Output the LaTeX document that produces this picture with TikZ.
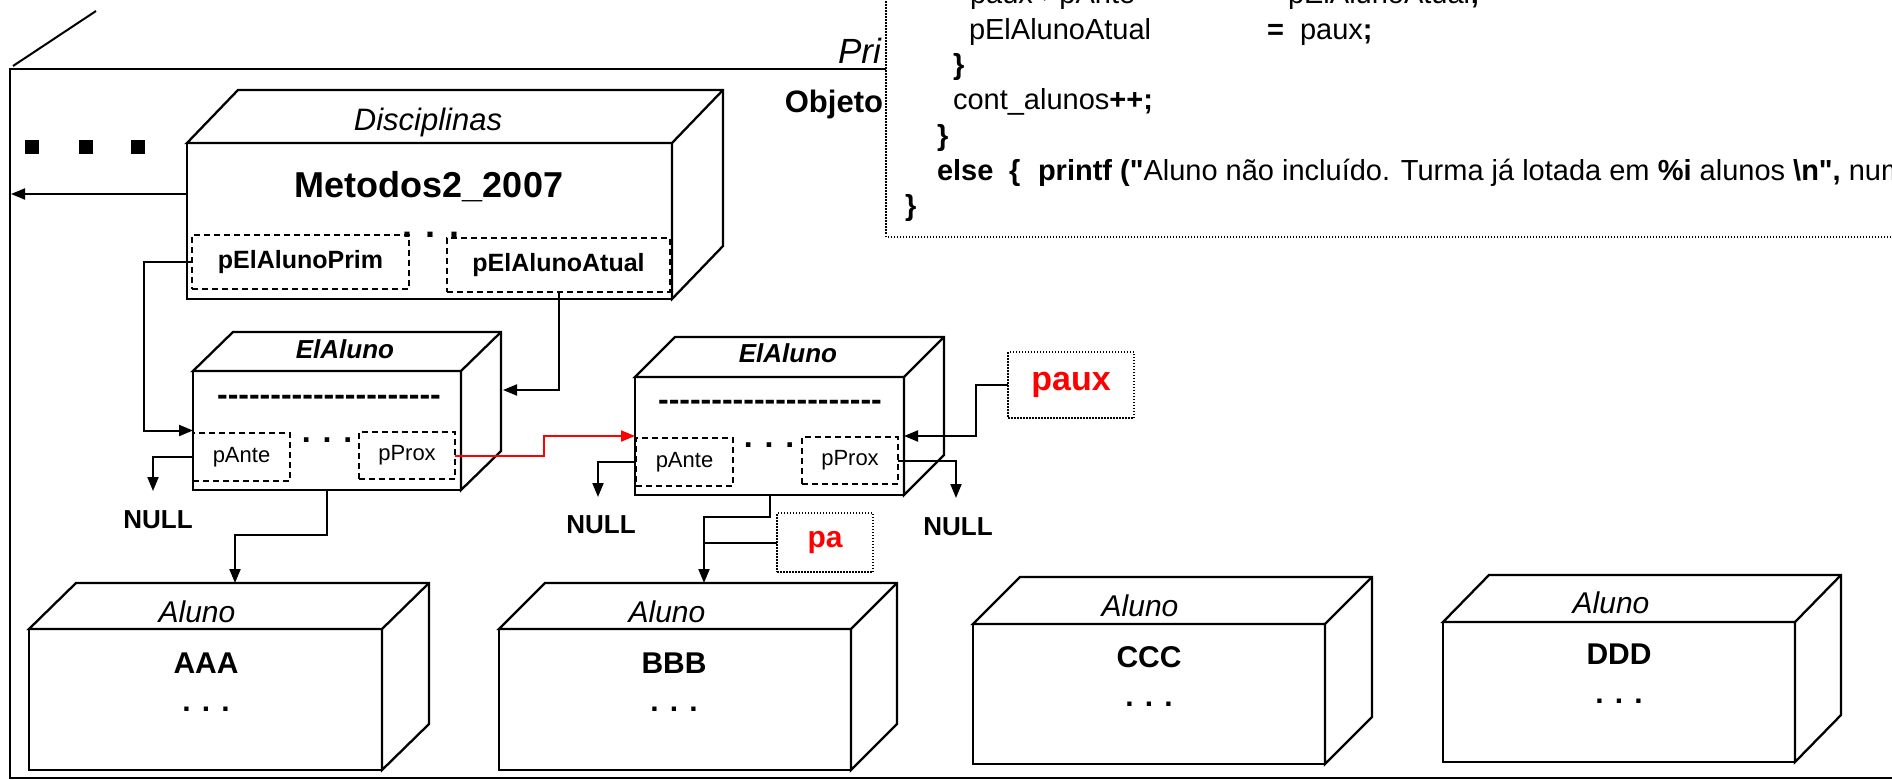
\documentclass[tikz,border=0pt]{standalone}
\usepackage{fontspec}
\setmainfont[Ligatures=TeXOff]{Liberation Sans}
\usetikzlibrary{arrows.meta,calc}
\newcommand\fsz[1]{\fontsize{#1}{#1}\selectfont}
\newcommand\cubenode[7]{%
  \node[front, minimum width=#4pt, minimum height=#5pt] (#1) at (#2,#3) {};
  \draw[boxline, fill=white] (#1.north west) -- ++(#6,-#7) -- ($(#1.north east)+(#6,-#7)$) -- ($(#1.south east)+(#6,-#7)$) -- (#1.south east) -- (#1.north east) -- cycle;
  \draw[boxline] (#1.north east) -- ++(#6,-#7);
}
\begin{document}
\begin{tikzpicture}[x=1pt,y=-1pt,
  boxline/.style={line width=2.3pt, line join=miter},
  front/.style={draw, rectangle, line width=2.3pt, fill=white, inner sep=0pt, outer sep=0pt},
  dbox/.style={draw, rectangle, line width=1.8pt, dash pattern=on 6pt off 4pt, inner sep=0pt, outer sep=0pt, font=\fsz{25}\bfseries},
  sbox/.style={draw, rectangle, line width=1.8pt, dash pattern=on 6pt off 4pt, inner sep=0pt, outer sep=0pt, font=\fsz{22}},
  dotbox/.style={draw, rectangle, line width=1.5pt, dash pattern=on 1.5pt off 1.5pt, inner sep=0pt, outer sep=0pt, fill=white, text=red, font=\bfseries},
  conn/.style={line width=2pt, -{Triangle[length=14pt,width=11pt]}},
  wire/.style={line width=2pt},
  txt/.style={inner sep=0pt, outer sep=0pt, anchor=base},
  code/.style={inner sep=0pt, outer sep=0pt, anchor=base west, font=\fsz{29}},
]
\useasboundingbox (0,0) rectangle (1892,779);
\clip (0,0) rectangle (1892,779);

% outer frame
\draw[line width=2pt] (900,69) -- (10,69) -- (10,777.5) -- (1900,777.5);
\draw[line width=2pt] (13,66) -- (96,11);
\node[txt, anchor=base west, font=\fsz{35}\itshape] (pri) at (838,63) {Pri};
\node[txt, anchor=base east, font=\fsz{31}\bfseries] (objeto) at (883,112) {Objeto};

% code box
\fill[white] (886,-5) rectangle (1900,237);
\draw[line width=1.5pt, dash pattern=on 1.5pt off 1.5pt] (1900,237) -- (886,237) -- (886,-5);
\node[code] (c1a) at (970,4) {paux->pAnte};
\node[code] (c1b) at (1288,4) {pElAlunoAtual\textbf{;}};
\node[code] (c2a) at (969,39) {pElAlunoAtual};
\node[code] (c2b) at (1267,39) {\textbf{=}};
\node[code] (c2c) at (1300,39) {paux\textbf{;}};
\node[code] (c3) at (953,74) {\textbf{\}}};
\node[code] (c4) at (953,109) {cont\_alunos\textbf{++;}};
\node[code] (c5) at (937,145) {\textbf{\}}};
\node[code] (c6a) at (937,180) {\textbf{else}};
\node[code] (c6b) at (1009,180) {\textbf{\{}};
\node[code] (c6c) at (1038,180) {\textbf{printf ("}Aluno não incluído. Turma já lotada em \textbf{\%i} alunos \textbf{\textbackslash n",} num};
\node[code] (c7) at (905,215) {\textbf{\}}};

% left marks and arrow
\fill (25,140) rectangle (39,154);
\fill (79,140) rectangle (93,154);
\fill (131,140) rectangle (145,154);

% Disciplinas
\cubenode{disc}{429.5}{221}{485}{156}{51}{53}
\node[txt, font=\fsz{31}\itshape] (disct) at (428,130) {Disciplinas};
\node[txt, font=\fsz{36}\bfseries] (metodos) at (429,197) {Metodos2\_2007};
\node[txt, font=\fsz{36}\bfseries] (ddots) at (431,237) {. . .};
\node[dbox, minimum width=217pt, minimum height=54pt] (dprim) at (300.5,262) {pElAlunoPrim};
\node[dbox, minimum width=223pt, minimum height=54pt] (datual) at (558.5,265) {pElAlunoAtual};
\coordinate (frameL) at (11,194);
\draw[conn] ($(disc.west)+(0,-27)$) -- (frameL);

% ElAluno 1
\cubenode{ea1}{327}{430.5}{268}{119}{40}{39}
\node[txt, font=\fsz{26}\bfseries\itshape] (ea1t) at (345,358) {ElAluno};
\node[txt, font=\fsz{32}\bfseries] (ea1d) at (329,405) {---------------------};
\node[txt, font=\fsz{32}\bfseries] (ea1dots) at (327,442) {. . .};
\node[sbox, minimum width=97pt, minimum height=48pt] (pa1) at (241.5,457) {pAnte};
\node[sbox, minimum width=96pt, minimum height=47pt] (pp1) at (407,455.5) {pProx};

% ElAluno 2
\cubenode{ea2}{769.5}{436}{269}{118}{40}{40}
\node[txt, font=\fsz{26}\bfseries\itshape] (ea2t) at (788,362) {ElAluno};
\node[txt, font=\fsz{32}\bfseries] (ea2d) at (770,410) {---------------------};
\node[txt, font=\fsz{32}\bfseries] (ea2dots) at (769,447) {. . .};
\node[sbox, minimum width=97pt, minimum height=48pt] (pa2) at (684.5,462) {pAnte};
\node[sbox, minimum width=96pt, minimum height=47pt] (pp2) at (850,460.5) {pProx};

% Aluno boxes
\cubenode{aaa}{205.5}{699.5}{353}{141}{47}{46}
\node[txt, font=\fsz{30}\itshape] (aaat) at (197,622) {Aluno};
\node[txt, font=\fsz{30}\bfseries] (aaan) at (206,673) {AAA};
\node[txt, font=\fsz{30}\bfseries] (aaad) at (206,711) {. . .};

\cubenode{bbb}{675}{699.5}{352}{141}{46}{46}
\node[txt, font=\fsz{30}\itshape] (bbbt) at (667,622) {Aluno};
\node[txt, font=\fsz{30}\bfseries] (bbbn) at (674,673) {BBB};
\node[txt, font=\fsz{30}\bfseries] (bbbd) at (674,711) {. . .};

\cubenode{ccc}{1149}{694}{352}{140}{47}{47}
\node[txt, font=\fsz{30}\itshape] (ccct) at (1140,616) {Aluno};
\node[txt, font=\fsz{30}\bfseries] (cccn) at (1149,667) {CCC};
\node[txt, font=\fsz{30}\bfseries] (cccd) at (1149,706) {. . .};

\cubenode{ddd}{1619}{692}{352}{140}{46}{47}
\node[txt, font=\fsz{30}\itshape] (dddt) at (1611,613) {Aluno};
\node[txt, font=\fsz{30}\bfseries] (dddn) at (1619,664) {DDD};
\node[txt, font=\fsz{30}\bfseries] (dddd) at (1619,703) {. . .};

% pointer boxes
\node[dotbox, font=\fsz{34}\bfseries, minimum width=126pt, minimum height=66pt] (paux) at (1071,385) {paux};
\node[dotbox, font=\fsz{30}\bfseries, minimum width=96pt, minimum height=59pt] (pa) at (825,542.5) {pa};

% free ends
\coordinate (ea1side) at (503,390);
\coordinate (null1) at (153,491);
\coordinate (null2) at (598,497);
\coordinate (null3) at (956,498);
\coordinate (aaatop) at (235,583);
\coordinate (bbbtop) at (704,583);

% connectors
\draw[conn] (dprim.west) -- ++(-48,0) |- (ea1.west);
\draw[conn] (datual.south) |- (ea1side);
\draw[conn] (pa1.west) -| (null1);
\draw[conn, red] (pp1.east) -- ++(89,0) |- (ea2.west);
\draw[conn] (ea1.south) -- ++(0,45) -| (aaatop);
\draw[conn] (pa2.west) -| (null2);
\draw[conn] (pp2.east) -| (null3);
\draw[conn] (paux.west) -- ++(-32,0) |- (ea2.east);
\draw[conn] (ea2.south) -- ++(0,22) -| (bbbtop);
\draw[wire] (pa.west) -- (pa.west -| bbbtop);

% NULL labels
\node[txt, font=\fsz{26}\bfseries] (n1) at (158,528) {NULL};
\node[txt, font=\fsz{26}\bfseries] (n2) at (601,533) {NULL};
\node[txt, font=\fsz{26}\bfseries] (n3) at (958,535) {NULL};
\end{tikzpicture}
\end{document}
